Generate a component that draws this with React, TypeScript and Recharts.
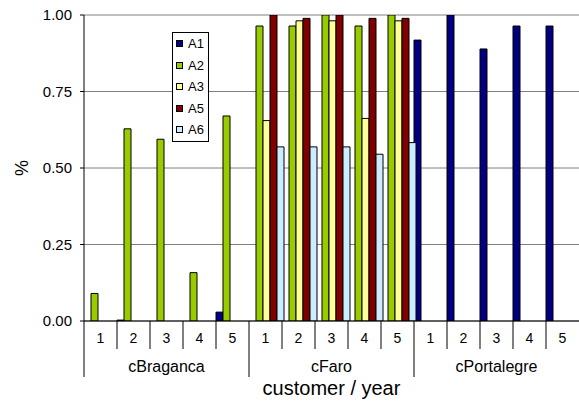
import React from "react";
import { BarChart, Bar, XAxis, YAxis, CartesianGrid, Legend, Label } from "recharts";

const customers = ["cBraganca", "cFaro", "cPortalegre"];
const years = ["1", "2", "3", "4", "5"];
const yTicks = [0, 0.25, 0.5, 0.75, 1];

// one value per customer/year, in customer order then year order
const a1 = [0, 0.003, 0, 0, 0.029, 0, 0, 0, 0, 0, 0.918, 1.0, 0.889, 0.964, 0.964];
const a2 = [0.09, 0.628, 0.594, 0.158, 0.67, 0.964, 0.964, 1.0, 0.964, 1.0, 0, 0, 0, 0, 0];
const a3 = [0, 0, 0, 0, 0, 0.655, 0.981, 0.981, 0.662, 0.981, 0, 0, 0, 0, 0];
const a5 = [0, 0, 0, 0, 0, 1.0, 0.989, 1.0, 0.989, 0.989, 0, 0, 0, 0, 0];
const a6 = [0, 0, 0, 0, 0, 0.569, 0.569, 0.569, 0.545, 0.583, 0, 0, 0, 0, 0];

const seriesNames = ["A1", "A2", "A3", "A5", "A6"];
const seriesValues = [a1, a2, a3, a5, a6];
const colors: Record<string, string> = {
  A1: "#000080",
  A2: "#99CC00",
  A3: "#FFFF99",
  A5: "#800000",
  A6: "#CCECFF",
};

const data = customers.flatMap((customer, ci) =>
  years.map((year, yi) => {
    const i = ci * years.length + yi;
    const row: any = { id: `${customer}-${year}`, customer, year };
    seriesNames.forEach((s, si) => {
      row[s] = seriesValues[si][i];
    });
    return row;
  })
);

const FONT = '"Liberation Sans", Arial, sans-serif';

function CategoryTick(props: any) {
  const { x, y, payload } = props;
  const idx = payload?.index ?? props.index;
  const row = data[idx];
  if (!row) return null;
  const half = payload?.offset ?? 16.5;
  const left = x - half;
  const yi = years.indexOf(row.year);
  return (
    <g>
      <line x1={left} x2={left} y1={y} y2={y + (yi === 0 ? 56 : 28)} stroke="#000" strokeWidth={1} />
      <text x={x} y={y + 17} textAnchor="middle" dominantBaseline="central" fontSize={14} fontFamily={FONT} fill="#000">
        {row.year}
      </text>
      {yi === 2 && (
        <text x={x} y={y + 45} textAnchor="middle" dominantBaseline="central" fontSize={16} fontFamily={FONT} fill="#000">
          {row.customer}
        </text>
      )}
    </g>
  );
}

function YTitle(props: any) {
  const vb = props.viewBox || { x: 0, y: 15, width: 84, height: 306 };
  const cx = 22;
  const cy = vb.y + vb.height / 2;
  return (
    <text x={cx} y={cy} transform={`rotate(-90 ${cx} ${cy})`} textAnchor="middle" dominantBaseline="central" fontSize={18} fontFamily={FONT} fill="#000">
      %
    </text>
  );
}

function LegendBox(props: any) {
  const items = props.payload || [];
  return (
    <div
      style={{
        border: "1px solid #000",
        background: "#fff",
        width: 37,
        boxSizing: "border-box",
        padding: "0 0 0 3px",
        fontFamily: FONT,
        fontSize: 13,
        color: "#000",
      }}
    >
      {items.map((e: any) => (
        <div key={e.value} style={{ display: "flex", alignItems: "center", height: 21.5 }}>
          <span style={{ width: 5, height: 5, background: e.color, border: "1px solid #000", marginRight: 5 }} />
          <span style={{ lineHeight: "13px" }}>{e.value}</span>
        </div>
      ))}
    </div>
  );
}

export default function App() {
  return (
    <div style={{ position: "absolute", left: 0, top: 0, width: 579, height: 401, background: "#fff" }}>
      <BarChart
        width={579}
        height={401}
        data={data}
        margin={{ top: 15, right: 0, bottom: 0, left: 0 }}
        barCategoryGap={0}
        barGap={0}
      >
        <CartesianGrid vertical={false} stroke="#808080" />
        <XAxis
          dataKey="id"
          height={80}
          interval={0}
          tickLine={false}
          tickSize={0}
          tickMargin={0}
          axisLine={{ stroke: "#000" }}
          tick={<CategoryTick />}
        >
          <Label
            value="customer / year"
            position="insideBottom"
            offset={6}
            style={{ fontSize: 20, fontFamily: FONT, fill: "#000" }}
          />
        </XAxis>
        <YAxis
          width={84}
          domain={[0, 1]}
          ticks={yTicks}
          tickFormatter={(v: number) => v.toFixed(2)}
          tickSize={4}
          tickMargin={8}
          axisLine={{ stroke: "#000" }}
          tickLine={{ stroke: "#000" }}
          tick={{ fontSize: 15, fontFamily: FONT, fill: "#000" }}
          allowDataOverflow
        >
          <Label content={<YTitle />} />
        </YAxis>
        <Legend
          layout="vertical"
          align="center"
          verticalAlign="middle"
          wrapperStyle={{ left: 172, top: 32, width: 37 }}
          content={<LegendBox />}
        />
        {seriesNames.map((s) => (
          <Bar key={s} dataKey={s} fill={colors[s]} stroke="#000" strokeWidth={1} isAnimationActive={false} />
        ))}
      </BarChart>
    </div>
  );
}
